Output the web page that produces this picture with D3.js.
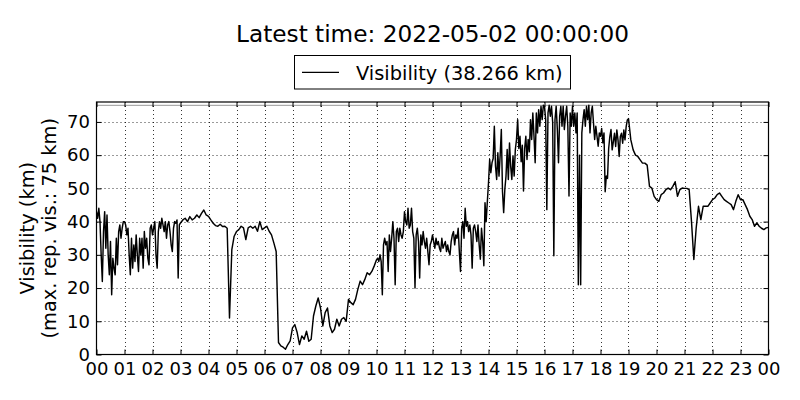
<!DOCTYPE html>
<html>
<head>
<meta charset="utf-8">
<script src="https://cdn.jsdelivr.net/npm/d3@7/dist/d3.min.js"></script>
<style>
  body { margin: 0; background: #fff; }
  svg { display: block; font-family: "DejaVu Sans", sans-serif; }
</style>
</head>
<body>
<svg id="chart" width="800" height="400"></svg>
<script>
// visibility (km), one row per hour of 2022-05-01 (UTC); each row's readings are spread evenly over its hour
const visibilityByHour = [
  [43, 41, 44, 40, 30, 22, 37, 43, 32, 42, 30, 24, 34, 18, 29, 26, 24, 35, 27, 37, 39, 35, 38, 40],
  [40, 39, 36, 38, 30, 24, 35, 26, 33, 28, 36, 30, 25, 35, 30, 35, 26, 37, 32, 35, 29, 27, 38, 39],
  [36, 38, 40, 30, 26, 37, 40, 38, 41, 39, 37, 40, 35, 39, 40, 37, 33, 31, 38, 40, 39.5, 40.5, 23, 39],
  [39.6, 40.5, 41, 40, 41.5, 40.5, 41, 42, 41.2, 42.5, 43.5, 42],
  [41.6, 40.5, 39.5, 38.8, 38.6, 39.2, 38.5, 38.6, 38, 11, 31.6, 35.6],
  [37, 37.6, 38.6, 38.1, 34.6, 38.1, 38.6, 38, 38.6, 37.1, 40, 37.6],
  [38.1, 38.6, 37.1, 36, 33.6, 31, 3.6, 2.6, 2.2, 1.6, 3, 4.1],
  [8, 9, 6.6, 3, 5.6, 4.6, 7, 4, 4.6, 11.6, 14.6, 17],
  [14, 8.6, 12.6, 14, 8.6, 6.6, 7.6, 10.6, 8.6, 10.6, 11.1, 10],
  [16.6, 15.6, 15, 16.6, 19.6, 22.1, 21, 22.6, 24.6, 24, 25, 26.6],
  [28.5, 29, 28, 30, 28, 18, 33, 35, 33, 34, 25, 36, 31, 35, 40, 35, 21, 37, 38, 34, 38, 36, 35, 37],
  [43, 40, 39, 44, 38, 39, 44, 37, 35, 20, 36, 38, 34, 23, 36, 33, 37, 34, 32, 35, 31, 27, 33, 34],
  [36, 34, 32, 35, 33, 34, 32, 31, 35, 32, 33, 34, 31, 33, 31, 30, 34, 36, 37, 33, 36, 35, 38, 31],
  [25, 38, 40, 35, 44, 38.6, 40, 37, 39, 36, 26, 38, 39, 37, 34, 39, 33, 28.7, 38, 34, 26.7, 45.7, 40, 46],
  [51.7, 58.7, 54.7, 57.7, 59, 68.7, 56.7, 52.7, 60.7, 53.7, 60, 67.7, 49, 42.7, 49.7, 53.7, 61.7, 52.7, 63.7, 56.7, 52.7, 59.7, 53.7, 61.7],
  [64.7, 70.7, 62, 65.7, 58, 63, 49.2, 62, 65.7, 58.7, 64.7, 61, 70.7, 64.7, 72.7, 65.7, 57.7, 72.7, 66.7, 73.7, 68.7, 74.7, 70.7, 75],
  [74.7, 70.7, 43.6, 72.7, 75, 71.7, 74.7, 70, 29.7, 70.7, 74.7, 67.7, 57.7, 71.7, 74.7, 68.7, 74.7, 67.7, 71.7, 74.7, 68.7, 47.7, 72.7, 68.7],
  [74.7, 68.7, 72.7, 66.7, 72.7, 21, 60, 21, 66.7, 70.7, 73.7, 68.7, 74.7, 70.7, 75, 66.7, 72.7, 74.7, 69.7, 64.7, 68.7, 65.7, 62.7, 66.7],
  [65.7, 68, 63.7, 66.7, 49, 53.7, 53, 62, 65.6, 67.7, 61.6, 64, 66.6, 62.6, 67.6, 64.6, 59.6, 65.6, 66.6, 63.6, 67.6, 64.6, 68.6, 70.6],
  [71, 64.6, 61.6, 60, 59.6, 58.6, 57.6, 57.6, 57, 50.6, 50.1, 47.6],
  [46.6, 46.1, 48.1, 48.6, 49.6, 50.1, 49.6, 50.6, 52, 47.6, 49.6, 50.1],
  [50, 50, 49.6, 40, 28.6, 38, 44.6, 40.6, 44.6, 44.6, 44.6, 45.6],
  [46.6, 47.1, 48.1, 48.6, 47.6, 46.6, 46.1, 45.6, 45.1, 43.6, 46.1, 48.1],
  [46.6, 46.6, 45.1, 43.6, 41.6, 40.6, 38.6, 39.6, 38.6, 38, 37.6, 38.1]
];
const latestVisibility = 38.266; // 2022-05-02 00:00
const startTime = Date.UTC(2022, 4, 1, 0, 0, 0);
const yTicks = [0, 10, 20, 30, 40, 50, 60, 70];
const yMax = 76;
const maxReported = 75;

const HOUR = 3600000;
const data = [];
visibilityByHour.forEach((row, h) => {
  row.forEach((v, j) => data.push({ t: new Date(startTime + (h + j / row.length) * HOUR), v }));
});
data.push({ t: new Date(startTime + 24 * HOUR), v: latestVisibility });
const latest = data[data.length - 1];

const svg = d3.select('#chart');
const plotL = 96.5, plotR = 768.5, plotT = 102, plotB = 354.5;

const x = d3.scaleUtc()
  .domain([data[0].t, latest.t])
  .range([plotL, plotR]);
const y = d3.scaleLinear()
  .domain([0, yMax])
  .range([plotB, plotT]);
const hours = x.ticks(d3.utcHour.every(1));

svg.append('rect').attr('width', 800).attr('height', 400).attr('fill', '#fff');

// dotted grid
const grid = svg.append('g')
  .attr('stroke', '#000')
  .attr('stroke-width', 0.8)
  .attr('stroke-dasharray', '1,3');
grid.selectAll('.gx').data(hours.slice(1, -1)).enter().append('line')
  .attr('x1', d => Math.round(x(d)) + 0.5).attr('x2', d => Math.round(x(d)) + 0.5)
  .attr('y1', plotT).attr('y2', plotB);
grid.selectAll('.gy').data(yTicks.slice(1)).enter().append('line')
  .attr('y1', d => Math.round(y(d)) + 0.5).attr('y2', d => Math.round(y(d)) + 0.5)
  .attr('x1', plotL).attr('x2', plotR);

// max reportable visibility
svg.append('line')
  .attr('x1', plotL).attr('x2', plotR)
  .attr('y1', y(maxReported)).attr('y2', y(maxReported))
  .attr('stroke', '#999').attr('stroke-width', 1);

svg.append('clipPath').attr('id', 'clip')
  .append('rect').attr('x', plotL).attr('y', plotT).attr('width', plotR - plotL).attr('height', plotB - plotT);

const line = d3.line().x(d => x(d.t)).y(d => y(d.v));
svg.append('path')
  .datum(data)
  .attr('clip-path', 'url(#clip)')
  .attr('fill', 'none')
  .attr('stroke', '#000')
  .attr('stroke-width', 1.45)
  .attr('stroke-linejoin', 'round')
  .attr('d', line);

// axes with inward ticks on all four sides
const fmtHour = d3.utcFormat('%H');
const styleAxis = g => {
  g.select('.domain').remove();
  g.selectAll('.tick line').attr('stroke', '#000');
  g.selectAll('text').attr('font-size', '18px').attr('fill', '#000').attr('font-family', 'DejaVu Sans');
};
svg.append('g').attr('transform', `translate(0,${plotB})`)
  .call(d3.axisBottom(x).tickValues(hours).tickFormat(fmtHour).tickSizeInner(-5).tickSizeOuter(0).tickPadding(8))
  .call(styleAxis);
svg.append('g').attr('transform', `translate(0,${plotT})`)
  .call(d3.axisTop(x).tickValues(hours).tickFormat('').tickSizeInner(-5).tickSizeOuter(0))
  .call(styleAxis);
svg.append('g').attr('transform', `translate(${plotL},0)`)
  .call(d3.axisLeft(y).tickValues(yTicks).tickSizeInner(-5).tickSizeOuter(0).tickPadding(6.5))
  .call(styleAxis);
svg.append('g').attr('transform', `translate(${plotR},0)`)
  .call(d3.axisRight(y).tickValues(yTicks).tickFormat('').tickSizeInner(-5).tickSizeOuter(0))
  .call(styleAxis);

// frame
svg.append('rect')
  .attr('x', plotL).attr('y', plotT).attr('width', plotR - plotL).attr('height', plotB - plotT)
  .attr('fill', 'none').attr('stroke', '#000').attr('stroke-width', 1.2);

// y label
const ylab = svg.append('text')
  .attr('transform', `translate(0,${(plotT + plotB) / 2}) rotate(-90)`)
  .attr('text-anchor', 'middle')
  .attr('font-size', '19.4px')
  .attr('fill', '#000');
ylab.append('tspan').attr('x', 0).attr('y', 33.5).text('Visibility (km)');
ylab.append('tspan').attr('x', 0).attr('y', 56).text(`(max. rep. vis.: ${maxReported} km)`);

// title
const cx = (plotL + plotR) / 2;
svg.append('text')
  .attr('x', cx).attr('y', 42)
  .attr('text-anchor', 'middle')
  .attr('font-size', '23.2px')
  .text('Latest time: ' + d3.utcFormat('%Y-%m-%d %H:%M:%S')(latest.t));

// legend
const legend = svg.append('g');
legend.append('rect')
  .attr('x', 294.5).attr('y', 55.5).attr('width', 276).attr('height', 33.5)
  .attr('fill', '#fff').attr('stroke', '#000').attr('stroke-width', 1);
legend.append('line')
  .attr('x1', 302).attr('x2', 339).attr('y1', 72.3).attr('y2', 72.3)
  .attr('stroke', '#000').attr('stroke-width', 1.3);
legend.append('text')
  .attr('x', 356).attr('y', 79.5)
  .attr('font-size', '19.4px')
  .text(`Visibility (${latest.v.toFixed(3)} km)`);
</script>
</body>
</html>
